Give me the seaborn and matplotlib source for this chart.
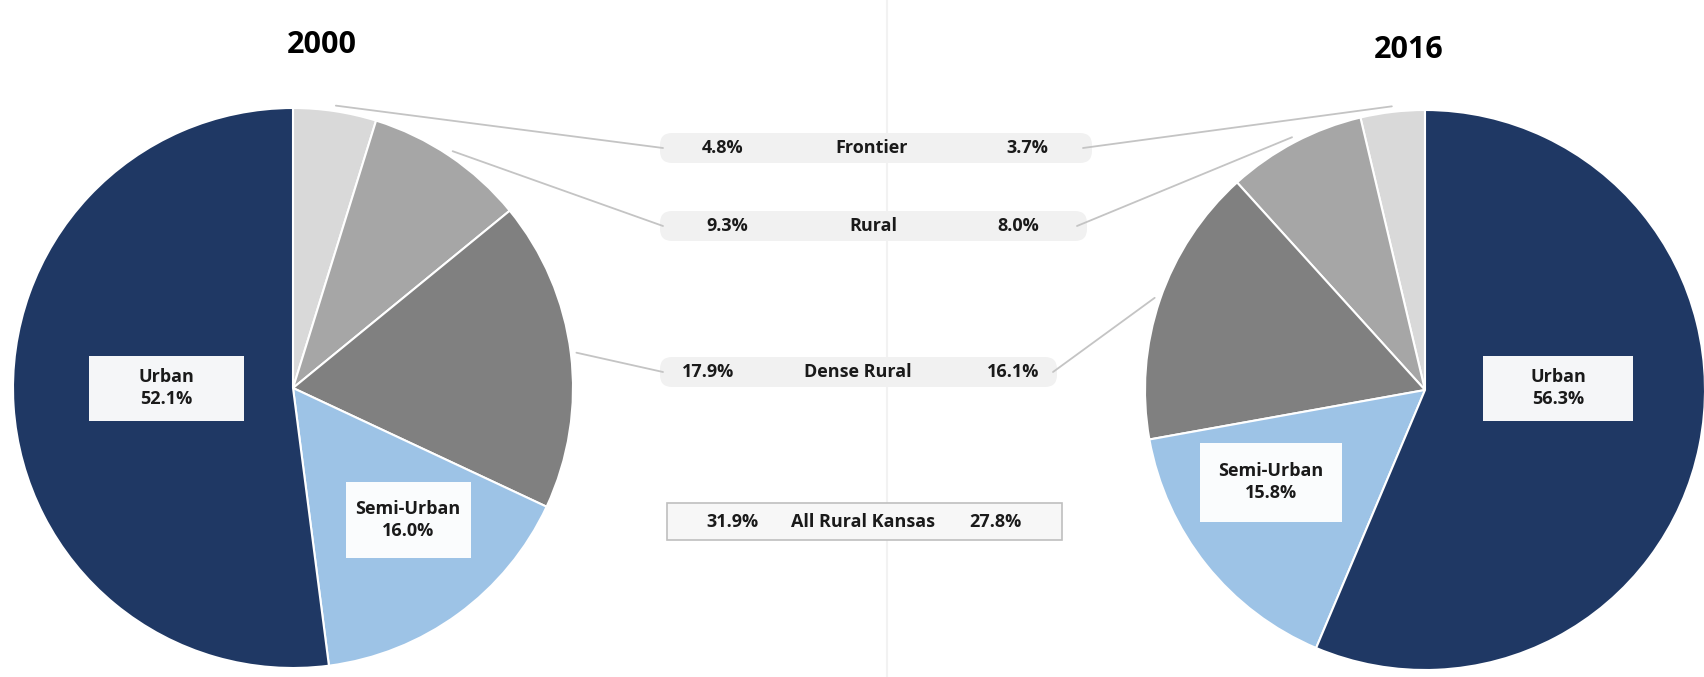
import numpy as np
import matplotlib
matplotlib.use('Agg')
import matplotlib.pyplot as plt
from matplotlib.patches import Rectangle, FancyBboxPatch
import seaborn as sns

# ── Data ─────────────────────────────────────────────────────────────────────
categories = ['Frontier', 'Rural', 'Dense Rural', 'Semi-Urban', 'Urban']
share_2000 = [4.8, 9.3, 17.9, 16.0, 52.1]
share_2016 = [3.7, 8.0, 16.1, 15.8, 56.3]
all_rural = {'2000': 31.9, '2016': 27.8}
years = ['2000', '2016']

palette = ['#D9D9D9', '#A6A6A6', '#808080', '#9DC3E6', '#1F3864']

sns.set_theme(style='white')
plt.rcParams['font.family'] = ['Open Sans', 'DejaVu Sans']

W, H = 1704, 677
fig = plt.figure(figsize=(W / 100, H / 100), dpi=100)
ax = fig.add_axes([0, 0, 1, 1])


def Y(y):
    # image-style y (from top) -> data y
    return H - y


R = 280
centers = {'2000': (293, Y(388)), '2016': (1425, Y(390))}

# faint vertical divider
ax.plot([887, 887], [0, H], color='#F2F2F2', lw=1.5, zorder=0)

# ── Pies ─────────────────────────────────────────────────────────────────────
for yr, vals, ccw in [('2000', share_2000, False), ('2016', share_2016, True)]:
    ax.pie(vals, colors=palette, startangle=90, counterclock=ccw,
           center=centers[yr], radius=R,
           wedgeprops=dict(edgecolor='white', linewidth=1.5))


def mid_angles(vals, ccw):
    v = np.array(vals) / np.sum(vals) * 360
    cum = np.cumsum(v) - v / 2
    return 90 + cum if ccw else 90 - cum


mids = {'2000': mid_angles(share_2000, False),
        '2016': mid_angles(share_2016, True)}

# ── Central comparison rows ──────────────────────────────────────────────────
row_y = [148, 226, 372]
left_end = [663, 663, 663]
right_end = [1083, 1077, 1053]
left_x = [723, 727, 708]
mid_x = [872, 873, 858]
right_x = [1027, 1018, 1013]
band_w = [(662, 1090), (662, 1085), (662, 1055)]

fs = 13
txt = dict(ha='center', va='center', fontsize=fs, fontweight='bold',
           color='#1A1A1A', zorder=3)
for i in range(3):
    x0, x1 = band_w[i]
    ax.add_patch(FancyBboxPatch((x0, Y(row_y[i]) - 13), x1 - x0, 26,
                                boxstyle='round,pad=2,rounding_size=12',
                                fc='#F1F1F1', ec='none', zorder=1))
    ax.text(left_x[i], Y(row_y[i]), f'{share_2000[i]:.1f}%', **txt)
    ax.text(mid_x[i], Y(row_y[i]), categories[i], **txt)
    ax.text(right_x[i], Y(row_y[i]), f'{share_2016[i]:.1f}%', **txt)

    # leader lines
    for yr, end_x in [('2000', left_end[i]), ('2016', right_end[i])]:
        cx, cy = centers[yr]
        a = np.deg2rad(mids[yr][i])
        sx, sy = cx + R * 1.02 * np.cos(a), cy + R * 1.02 * np.sin(a)
        ax.plot([sx, end_x], [sy, Y(row_y[i])], color='#C4C4C4', lw=1.3, zorder=2)

# All Rural Kansas box
ax.add_patch(Rectangle((667, Y(540)), 395, 37, fc='#F7F7F7', ec='#BFBFBF',
                       lw=1.2, zorder=1))
ax.text(732, Y(522), f"{all_rural['2000']:.1f}%", **txt)
ax.text(863, Y(522), 'All Rural Kansas', **txt)
ax.text(995, Y(522), f"{all_rural['2016']:.1f}%", **txt)

# ── In-pie labels ────────────────────────────────────────────────────────────
boxes = [('2000', 4, 166, 388, 155, 65), ('2000', 3, 408, 520, 125, 76),
         ('2016', 4, 1558, 388, 150, 65), ('2016', 3, 1271, 482, 142, 79)]
for yr, idx, bx, by, bw, bh in boxes:
    vals = share_2000 if yr == '2000' else share_2016
    ax.add_patch(Rectangle((bx - bw / 2, Y(by) - bh / 2), bw, bh,
                           fc='white', ec='none', alpha=0.96, zorder=3))
    ax.text(bx, Y(by), f'{categories[idx]}\n{vals[idx]:.1f}%', ha='center',
            va='center', fontsize=fs, fontweight='bold', color='#1A1A1A',
            linespacing=1.3, zorder=4)

# ── Titles ───────────────────────────────────────────────────────────────────
ax.text(322, Y(45), years[0], ha='center', va='center', fontsize=22,
        fontweight='bold', color='black')
ax.text(1409, Y(50), years[1], ha='center', va='center', fontsize=22,
        fontweight='bold', color='black')

ax.set_xlim(0, W)
ax.set_ylim(0, H)
ax.set_aspect('equal')
ax.axis('off')

fig.savefig('out.png', dpi=100, facecolor='white')
